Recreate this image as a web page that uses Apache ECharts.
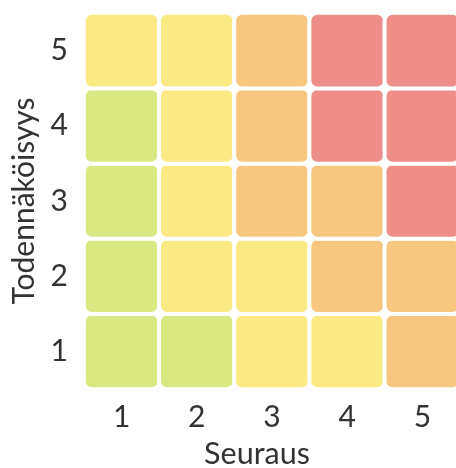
<!DOCTYPE html>
<html>
<head>
<meta charset="utf-8">
<style>html,body{margin:0;padding:0;background:#fff;}#c{width:456px;height:468px;}</style>
<script src="https://cdn.jsdelivr.net/npm/echarts@6/dist/echarts.min.js"></script>
</head>
<body>
<div id="c"></div>
<script>
// Consequence (x) and probability (y) categories
const consequence = ['1', '2', '3', '4', '5'];
const probability = ['1', '2', '3', '4', '5'];
// Risk level per cell, rows = probability 1..5, columns = consequence 1..5
const riskRow1 = [1, 1, 2, 2, 3];
const riskRow2 = [1, 2, 2, 3, 3];
const riskRow3 = [1, 2, 3, 3, 4];
const riskRow4 = [1, 2, 3, 4, 4];
const riskRow5 = [2, 2, 3, 4, 4];
const riskRows = [riskRow1, riskRow2, riskRow3, riskRow4, riskRow5];
const levelColors = { 1: '#d9e882', 2: '#fbe983', 3: '#f7c67f', 4: '#ed8e89' };

const data = [];
riskRows.forEach((row, yi) => {
  row.forEach((lvl, xi) => {
    data.push({ value: [xi, yi, lvl], itemStyle: { color: levelColors[lvl] } });
  });
});

const chart = echarts.init(document.getElementById('c'), null, { renderer: 'canvas' });
const font = 'Lato';
chart.setOption({
  animation: false,
  grid: { left: 84, top: 13, width: 376, height: 376, outerBoundsMode: 'none', containLabel: false },
  xAxis: {
    type: 'category', data: consequence,
    axisLine: { show: false }, axisTick: { show: false }, splitLine: { show: false },
    axisLabel: { fontFamily: font, fontSize: 30, color: '#333', margin: 13 },
    name: 'Seuraus', nameLocation: 'middle', nameGap: 50,
    nameTextStyle: { fontFamily: font, fontSize: 30.5, color: '#333', padding: [0, 30, 0, 0] }
  },
  yAxis: {
    type: 'category', data: probability,
    axisLine: { show: false }, axisTick: { show: false }, splitLine: { show: false },
    axisLabel: { fontFamily: font, fontSize: 30, color: '#333', margin: 16 },
    name: 'Todennäköisyys', nameLocation: 'middle', nameGap: 40,
    nameTextStyle: { fontFamily: font, fontSize: 30, color: '#333', padding: [0, 0, 0, 0] }
  },
  series: [{
    type: 'heatmap',
    data: data,
    itemStyle: { borderColor: '#fff', borderWidth: 4, borderRadius: 8 },
    emphasis: { disabled: true }
  }]
});
</script>
</body>
</html>
